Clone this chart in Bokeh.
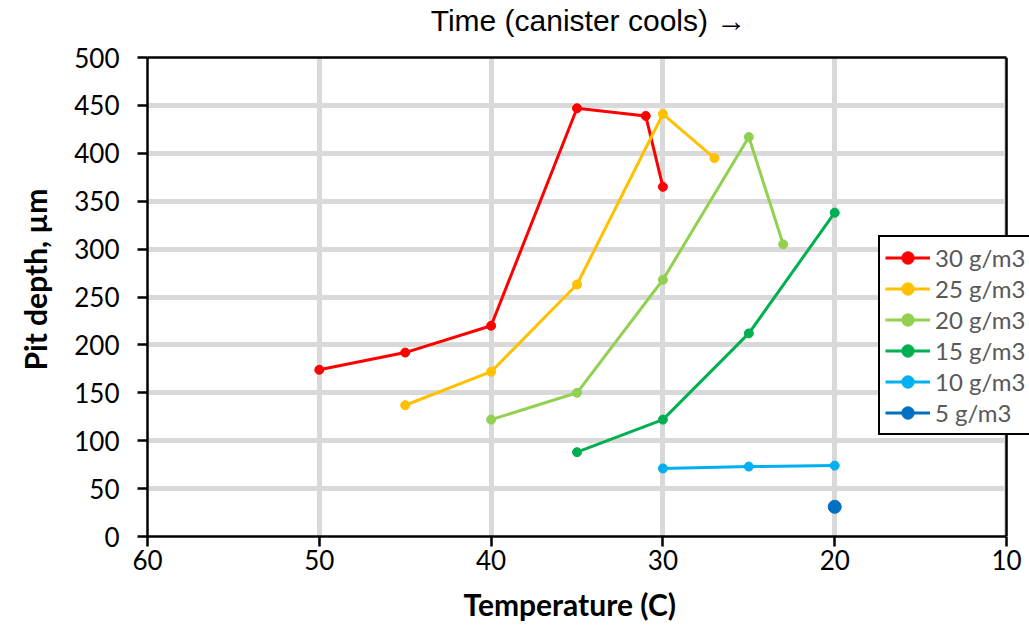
from bokeh.plotting import figure
from bokeh.models import Range1d, Legend, LegendItem, FixedTicker, LinearAxis, Span, BoxAnnotation, Title
from bokeh.embed import file_html
from bokeh.resources import INLINE

# ---- data ----
series_labels = ["30 g/m3", "25 g/m3", "20 g/m3", "15 g/m3", "10 g/m3", "5 g/m3"]
t30 = [50, 45, 40, 35, 31, 30]
d30 = [174, 192, 220, 447, 439, 365]
t25 = [45, 40, 35, 30, 27]
d25 = [137, 172, 263, 441, 395]
t20 = [40, 35, 30, 25, 23]
d20 = [122, 150, 268, 417, 305]
t15 = [35, 30, 25, 20]
d15 = [88, 122, 212, 338]
t10 = [30, 25, 20]
d10 = [71, 73, 74]
t5 = [20]
d5 = [31]
x_ticks = [60, 50, 40, 30, 20, 10]
y_ticks = [0, 50, 100, 150, 200, 250, 300, 350, 400, 450, 500]
x_min, x_max = 60, 10

colors = ["#FF0000", "#FFC000", "#92D050", "#00B050", "#00B0F0", "#0070C0"]
marker_sizes = [9, 9, 9, 9, 9, 13]

FONT = "Lato"

# frame spans 146..1029 px; axis 60..10 spans 146..1006 px -> extend range so legend can overhang
px_per_unit = (1006 - 146) / (x_min - x_max)
x_end = x_min - (1029 - 146) / px_per_unit

p = figure(width=1029, height=633, x_range=Range1d(x_min, x_end), y_range=Range1d(0, 500),
           output_backend="svg", toolbar_location=None, title=None,
           min_border_left=146, min_border_right=0, min_border_top=56, min_border_bottom=97)

p.outline_line_color = None
p.background_fill_color = "white"

# grids
p.xgrid.ticker = FixedTicker(ticks=x_ticks)
p.ygrid.ticker = FixedTicker(ticks=y_ticks)
for g in (p.xgrid, p.ygrid):
    g.grid_line_color = "#D9D9D9"
    g.grid_line_width = 5

# axes
xa = p.xaxis[0]
ya = p.yaxis[0]
xa.ticker = FixedTicker(ticks=x_ticks)
ya.ticker = FixedTicker(ticks=y_ticks)
xa.bounds = (x_min, x_max)
for ax in (xa, ya):
    ax.axis_line_color = "black"
    ax.axis_line_width = 2.5
    ax.major_tick_line_color = "black"
    ax.major_tick_line_width = 2.5
    ax.major_tick_out = 10
    ax.major_tick_in = 0
    ax.minor_tick_line_color = None
    ax.major_label_text_font = FONT
    ax.major_label_text_font_size = "26px"
    ax.major_label_text_color = "black"
xa.major_label_standoff = 3
ya.major_label_standoff = 18

# axis titles (as titles for exact placement)
xt = Title(text="Temperature (C)", align="left", offset=316, standoff=22,
           text_font=FONT, text_font_style="bold", text_font_size="30px", text_color="black")
p.add_layout(xt, "below")
yt = Title(text="Pit depth, \u00b5m", align="left", offset=166, standoff=33, vertical_align="top",
           text_font=FONT, text_font_style="bold", text_font_size="30px", text_color="black")
p.add_layout(yt, "left")

# top border, carrying the chart heading
top_ax = LinearAxis(ticker=FixedTicker(ticks=[]), major_label_text_font_size="0px",
                    major_label_standoff=0, major_tick_out=0, major_tick_in=0,
                    axis_line_color="black", axis_line_width=2.5, bounds=(x_min, x_max),
                    major_tick_line_color=None, minor_tick_line_color=None,
                    axis_label="Time (canister cools) \u2192", axis_label_standoff=21,
                    axis_label_text_font="Liberation Sans", axis_label_text_font_style="normal",
                    axis_label_text_font_size="30px", axis_label_text_color="black")
p.add_layout(top_ax, "above")

# blank area right of the plot box (legend overhangs here)
p.add_layout(BoxAnnotation(left=x_max, fill_color="white", fill_alpha=1.0, line_color=None))
# right border
p.add_layout(Span(location=x_max, dimension="height", line_color="black", line_width=2.5))

# series
xs = [t30, t25, t20, t15, t10, t5]
ys = [d30, d25, d20, d15, d10, d5]
items = []
for lab, x, y, c, ms in zip(series_labels, xs, ys, colors, marker_sizes):
    r_line = p.line(x, y, line_color=c, line_width=3)
    r_pt = p.scatter(x, y, marker="circle", size=ms, fill_color=c, line_color=c)
    items.append(LegendItem(label=lab, renderers=[r_line, r_pt]))

legend = Legend(items=items, location=(731, 101))
legend.label_text_font = FONT
legend.label_text_font_size = "24px"
legend.label_text_color = "#595959"
legend.glyph_width = 45
legend.glyph_height = 31
legend.label_height = 31
legend.label_standoff = 5
legend.spacing = 0
legend.padding = 5
legend.margin = 0
legend.border_line_color = "black"
legend.border_line_alpha = 1.0
legend.border_line_width = 2
legend.background_fill_color = "white"
legend.background_fill_alpha = 1.0
p.add_layout(legend, "center")

open("out.html", "w").write(file_html(p, INLINE))
